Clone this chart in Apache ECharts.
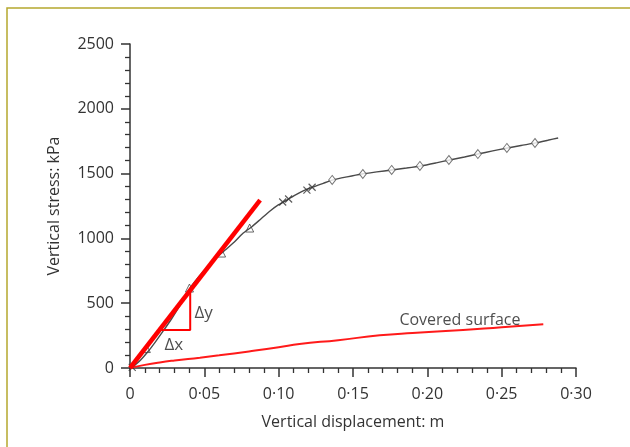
<!DOCTYPE html>
<html><head><meta charset="utf-8">
<script src="https://cdn.jsdelivr.net/npm/echarts@6/dist/echarts.min.js"></script>
<style>html,body{margin:0;padding:0;background:#fff;}#c{width:630px;height:447px;}</style>
</head><body><div id="c"></div>
<script>
// Main test curve
const mainX = [0, 0.003, 0.007, 0.012, 0.017, 0.022, 0.028, 0.034, 0.040, 0.046, 0.052, 0.058, 0.064, 0.070, 0.076, 0.082, 0.088, 0.094, 0.100, 0.106, 0.112, 0.118, 0.124, 0.130, 0.136, 0.146, 0.156, 0.166, 0.176, 0.186, 0.196, 0.206, 0.215, 0.225, 0.234, 0.244, 0.254, 0.263, 0.273, 0.281, 0.288];
const mainY = [0, 20, 60, 125, 200, 280, 380, 490, 610, 700, 780, 850, 910, 970, 1040, 1090, 1150, 1210, 1260, 1300, 1340, 1375, 1400, 1425, 1450, 1475, 1497, 1513, 1528, 1543, 1560, 1583, 1605, 1628, 1651, 1675, 1698, 1717, 1737, 1757, 1775];
// Markers on main curve
const triX = [0.011, 0.040, 0.0616, 0.0805];
const triY = [150, 617, 887, 1080];
const crossX = [0.0015, 0.1027, 0.1067, 0.119, 0.1225];
const crossY = [5, 1281, 1304, 1373, 1395];
const diaX = [0.136, 0.1566, 0.176, 0.195, 0.2145, 0.234, 0.2535, 0.2724];
const diaY = [1451, 1497, 1528, 1559, 1605, 1651, 1698, 1736];
// Covered surface curve
const covX = [0, 0.01, 0.02, 0.03, 0.047, 0.06, 0.08, 0.10, 0.114, 0.14, 0.168, 0.19, 0.224, 0.25, 0.278];
const covY = [0, 24, 43, 58, 80, 98, 128, 160, 185, 215, 252, 270, 293, 315, 337];
// Tangent line and delta triangle
const tanX = [0, 0.0875];
const tanY = [0, 1296];
const deltaX = [0.0198, 0.0405, 0.0405];
const deltaY = [293, 293, 600];
// Axis settings
const xTicks = [0, 0.05, 0.10, 0.15, 0.20, 0.25, 0.30];
const yTicks = [0, 500, 1000, 1500, 2000, 2500];
// Annotations
const notes = [
  {name: 'Δy', x: 0.0434, y: 424, size: 17},
  {name: 'Δx', x: 0.0232, y: 177, size: 17},
  {name: 'Covered surface', x: 0.1812, y: 366, size: 16}
];

const zip = (a, b) => a.map((v, i) => [v, b[i]]);
const FONT = '"Open Sans", "Noto Sans", sans-serif';
const chart = echarts.init(document.getElementById('c'));
chart.setOption({
  animation: false,
  backgroundColor: '#fff',
  graphic: [{
    type: 'polyline', shape: {points: [[7, 460], [7, 8], [640, 8]]},
    style: {stroke: '#b5a82e', lineWidth: 1.5, fill: null}, silent: true
  }],
  grid: {left: 130, right: 54, top: 44, bottom: 79, containLabel: false},
  xAxis: {
    type: 'value', min: xTicks[0], max: xTicks[xTicks.length - 1], interval: 0.05,
    name: 'Vertical displacement: m', nameLocation: 'middle', nameGap: 46,
    nameTextStyle: {fontFamily: FONT, fontSize: 16, color: '#333'},
    axisLine: {lineStyle: {color: '#333', width: 1.5}},
    axisTick: {show: true, length: 9, lineStyle: {color: '#333', width: 1.5}},
    minorTick: {show: true, splitNumber: 5, length: 5, lineStyle: {color: '#333', width: 1.3}},
    splitLine: {show: false},
    axisLabel: {
      fontFamily: FONT, fontSize: 16, color: '#333', margin: 18,
      formatter: v => v === 0 ? '0' : v.toFixed(2).replace('.', '·')
    }
  },
  yAxis: {
    type: 'value', min: yTicks[0], max: yTicks[yTicks.length - 1], interval: 500,
    name: 'Vertical stress: kPa', nameLocation: 'middle', nameGap: 68,
    nameTextStyle: {fontFamily: FONT, fontSize: 16, color: '#333'},
    axisLine: {show: true, lineStyle: {color: '#333', width: 1.5}},
    axisTick: {show: true, length: 9, lineStyle: {color: '#333', width: 1.5}},
    minorTick: {show: true, splitNumber: 5, length: 5, lineStyle: {color: '#333', width: 1.3}},
    splitLine: {show: false},
    axisLabel: {fontFamily: FONT, fontSize: 16, color: '#333', margin: 16,
      formatter: v => String(v)}
  },
  series: [
    {type: 'line', data: zip(covX, covY), showSymbol: false, smooth: true,
     lineStyle: {color: '#ff1a1a', width: 2}, z: 3},
    {type: 'line', data: zip(mainX, mainY), showSymbol: false, smooth: 0.2,
     lineStyle: {color: '#4a4a4a', width: 1.4}, z: 4},
    {type: 'scatter', data: zip(triX, triY), symbol: 'triangle', symbolSize: 8,
     itemStyle: {color: 'rgba(255,255,255,0)', borderColor: '#444', borderWidth: 1}, z: 5},
    {type: 'scatter', data: zip(crossX, crossY),
     symbol: 'path://M0,0L10,10M10,0L0,10', symbolSize: 7,
     itemStyle: {color: 'none', borderColor: '#333', borderWidth: 1.2}, z: 5},
    {type: 'scatter', data: zip(diaX, diaY), symbol: 'diamond', symbolSize: [7, 9],
     itemStyle: {color: '#fff', borderColor: '#555', borderWidth: 1}, z: 5},
    {type: 'line', data: zip(tanX, tanY), showSymbol: false,
     lineStyle: {color: '#ff0000', width: 4.5}, z: 6},
    {type: 'line', data: zip(deltaX, deltaY), showSymbol: false,
     lineStyle: {color: '#ff0000', width: 2}, z: 6},
    {type: 'scatter', symbolSize: 0, z: 7,
     data: notes.map(n => ({name: n.name, value: [n.x, n.y],
       label: {fontSize: n.size}})),
     label: {show: true, position: 'right', distance: 0, formatter: p => p.name,
       fontFamily: FONT, color: '#222'}}
  ]
});
</script></body></html>
